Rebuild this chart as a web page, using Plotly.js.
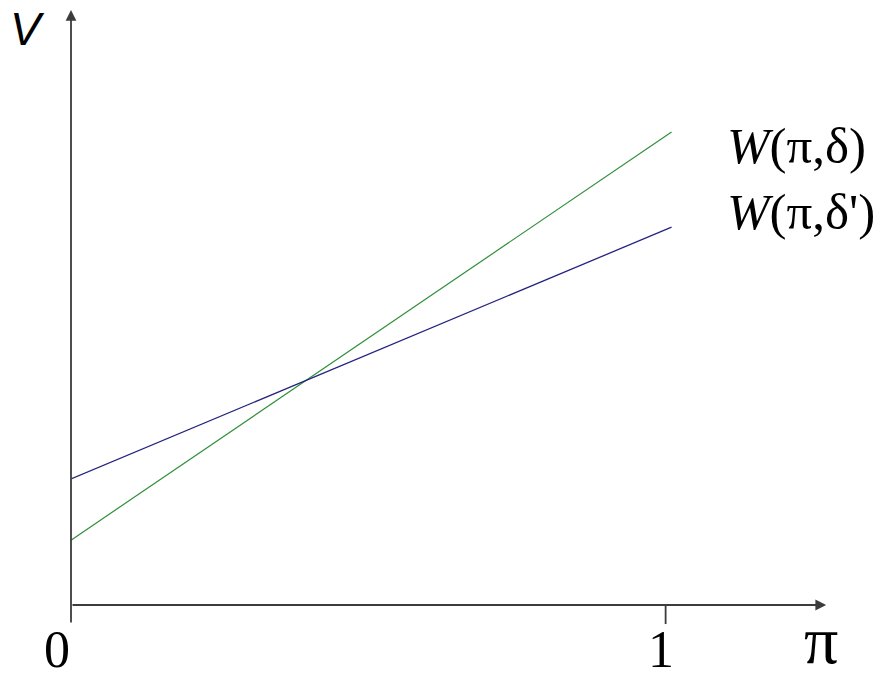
<!DOCTYPE html>
<html>
<head>
<meta charset="utf-8">
<script src="https://cdn.plot.ly/plotly-3.0.1.min.js"></script>
<style>html,body{margin:0;padding:0;background:#fff;}#chart{width:887px;height:681px;}</style>
</head>
<body>
<div id="chart"></div>
<script>
// Data
const piValues = [0, 1.01];
const wDelta = [1.09, 7.95];       // W(π,δ)  (green)
const wDeltaPrime = [2.12, 6.35];  // W(π,δ') (blue)
const seriesNames = ['W(π,δ)', "W(π,δ')"];
const xTickVals = [0, 1];
const xTickText = ['0', '1'];

const serif = 'Liberation Serif';
const sans = 'Liberation Sans';
const axisColor = '#3c3c3c';

const traces = [
  {x: piValues, y: wDelta, mode: 'lines', name: seriesNames[0],
   line: {color: '#2f8f3a', width: 1.2}, hoverinfo: 'skip'},
  {x: piValues, y: wDeltaPrime, mode: 'lines', name: seriesNames[1],
   line: {color: '#23237f', width: 1.3}, hoverinfo: 'skip'}
];

const labelY = -1.262;   // bottom of the label boxes, just above the lower edge

const annotations = [
  // axes with arrowheads
  {x: 1.27, y: 0, ax: 0, ay: 0, xref: 'x', yref: 'y', axref: 'x', ayref: 'y',
   showarrow: true, arrowhead: 2, arrowsize: 1.2, arrowwidth: 1.8, arrowcolor: axisColor, text: '', standoff: 0},
  {x: 0, y: 10.0, ax: 0, ay: -0.32, xref: 'x', yref: 'y', axref: 'x', ayref: 'y',
   showarrow: true, arrowhead: 2, arrowsize: 1.2, arrowwidth: 1.8, arrowcolor: axisColor, text: '', standoff: 0},
  // tick labels
  {x: xTickVals[0], y: labelY, xref: 'x', yref: 'y', text: xTickText[0], showarrow: false, yanchor: 'bottom',
   xshift: -14, font: {family: serif, size: 52, color: '#000'}},
  {x: xTickVals[1], y: labelY, xref: 'x', yref: 'y', text: xTickText[1], showarrow: false, yanchor: 'bottom',
   xshift: -5, font: {family: serif, size: 52, color: '#000'}},
  // axis titles
  {x: 1.3, y: labelY, xref: 'x', yref: 'y', text: 'π', showarrow: false, xanchor: 'center', yanchor: 'bottom',
   xshift: -23, font: {family: serif, size: 68, color: '#000'}},
  {x: 0, y: 10.15, xref: 'x', yref: 'y', text: '<i>V</i>', showarrow: false, yanchor: 'top', xshift: -44,
   font: {family: sans, size: 46, color: '#000'}},
  // series labels
  {x: 1.1, y: 7.72, xref: 'x', yref: 'y', text: '<i>W</i>(π,δ)', showarrow: false, xanchor: 'left',
   font: {family: serif, size: 51, color: '#000'}},
  {x: 1.1, y: 6.6, xref: 'x', yref: 'y', text: "<i>W</i>(π,δ')", showarrow: false, xanchor: 'left',
   font: {family: serif, size: 51, color: '#000'}}
];

const shapes = [
  {type: 'line', xref: 'x', yref: 'y', x0: xTickVals[1], x1: xTickVals[1], y0: 0, y1: -0.32,
   line: {color: axisColor, width: 1.8}}
];

const layout = {
  width: 887, height: 681,
  margin: {l: 71, r: 42.5, t: 0, b: 0},
  paper_bgcolor: '#fff', plot_bgcolor: '#fff',
  showlegend: false,
  xaxis: {range: [0, 1.3], visible: false, fixedrange: true},
  yaxis: {range: [-1.277, 10.168], visible: false, fixedrange: true},
  annotations: annotations,
  shapes: shapes
};

Plotly.newPlot('chart', traces, layout, {staticPlot: true, displayModeBar: false});
</script>
</body>
</html>
